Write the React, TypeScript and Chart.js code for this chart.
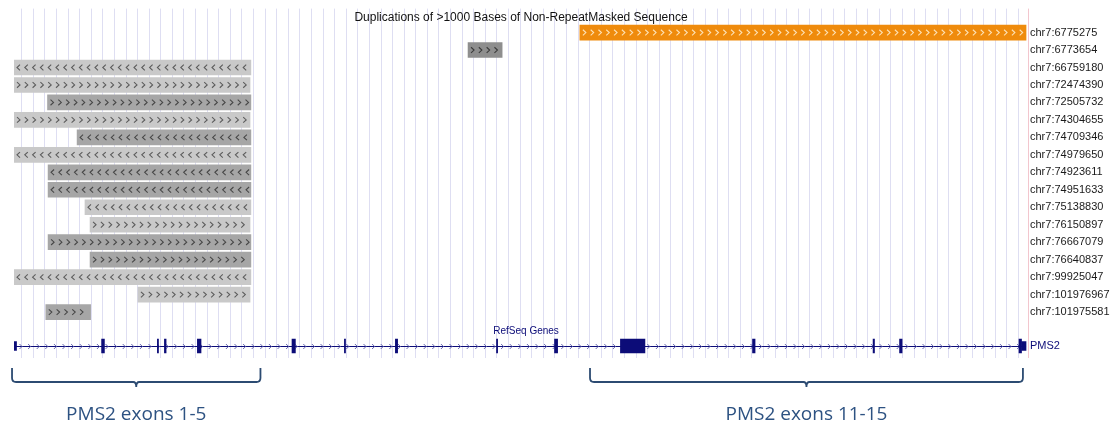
import React, { useEffect, useRef } from "react";
import { Chart, registerables } from "chart.js";

Chart.register(...registerables);

// ---------------- data ----------------
const trackTitle = "Duplications of >1000 Bases of Non-RepeatMasked Sequence";
const geneTrackTitle = "RefSeq Genes";

const rowLabels = [
  "chr7:6775275",
  "chr7:6773654",
  "chr7:66759180",
  "chr7:72474390",
  "chr7:72505732",
  "chr7:74304655",
  "chr7:74709346",
  "chr7:74979650",
  "chr7:74923611",
  "chr7:74951633",
  "chr7:75138830",
  "chr7:76150897",
  "chr7:76667079",
  "chr7:76640837",
  "chr7:99925047",
  "chr7:101976967",
  "chr7:101975581",
];
// positions in kb from the left edge of the browser window
const dupStarts = [20.09, 16.12, 0, 0, 1.19, 0, 2.24, 0, 1.21, 1.21, 2.52, 2.7, 1.21, 2.7, 0, 4.4, 1.13];
const dupEnds = [35.93, 17.33, 8.41, 8.38, 8.41, 8.38, 8.41, 8.41, 8.41, 8.41, 8.41, 8.38, 8.41, 8.41, 8.41, 8.38, 2.72];
const dupStrands = ["+", "+", "-", "+", "+", "+", "-", "-", "-", "-", "-", "+", "+", "+", "-", "+", "+"];
const dupShades = ["orange", "darker", "light", "light", "dark", "light", "dark", "light", "dark", "dark", "light", "light", "dark", "dark", "light", "light", "dark"];

const geneName = "PMS2";
const geneStart = 0;
const geneEnd = 35.93;
const exonStarts = [3.11, 5.09, 5.34, 6.51, 9.87, 11.73, 13.54, 17.13, 19.19, 21.53, 26.22, 30.5, 31.44, 35.68];
const exonEnds = [3.21, 5.13, 5.4, 6.64, 9.99, 11.77, 13.62, 17.17, 19.3, 22.4, 26.31, 30.55, 31.53, 35.77];
const utrStarts = [0, 35.77];
const utrEnds = [0.09, 35.93];

const bracketLabels = ["PMS2 exons 1-5", "PMS2 exons 11-15"];
const bracketStarts = [-0.07, 20.45];
const bracketEnds = [8.75, 35.82];

const windowStart = 0;
const windowEnd = 36;
const guideStart = 0.2734;
const guideStep = 0.4115;
const guideCount = 87;

const titleRow = -0.857;
const geneLabelRow = 17.086;
const geneLabelPos = 18.18;
const geneRow = 17.943;
const rowMin = -1.3714;
const rowMax = 18.6286;

// ---------------- styles ----------------
const NAVY = "#0c0c78";
const shadeColors: Record<string, string> = {
  orange: "#ef8b0c",
  darker: "#8e8e8e",
  dark: "#a6a6a6",
  light: "#c9c9c9",
};
const chevronColors: Record<string, string> = {
  orange: "#fde2b6",
  darker: "#3a3a3a",
  dark: "#474747",
  light: "#5c5c5c",
};
const BRACKET = "#2c4b72";

function pickLabelFont() {
  try {
    const c = document.createElement("canvas").getContext("2d")!;
    c.font = '13px "Liberation Sans Narrow", monospace';
    const w1 = c.measureText("chr7:66759180").width;
    c.font = "13px monospace";
    const w2 = c.measureText("chr7:66759180").width;
    if (Math.abs(w1 - w2) > 0.5) return { family: '"Liberation Sans Narrow"', size: 13 };
  } catch (e) {}
  return { family: '"Liberation Sans", Arial, sans-serif', size: 11 };
}

const trackPlugin = {
  id: "trackPlugin",
  beforeDatasetsDraw(chart: any) {
    const { ctx, chartArea, scales } = chart;
    const xs = scales.x;
    const ys = scales.y;
    ctx.save();
    // right boundary line
    ctx.strokeStyle = "#f3c6ce";
    ctx.lineWidth = 1;
    const rx = Math.round(chartArea.right) + 0.5;
    ctx.beginPath();
    ctx.moveTo(rx, chartArea.top);
    ctx.lineTo(rx, chartArea.bottom);
    ctx.stroke();

    // track title
    ctx.fillStyle = "#111";
    ctx.font = '12px "Liberation Sans", Arial, sans-serif';
    ctx.textAlign = "center";
    ctx.textBaseline = "middle";
    ctx.fillText(trackTitle, (chartArea.left + chartArea.right) / 2, ys.getPixelForValue(titleRow));

    // gene track title
    ctx.fillStyle = NAVY;
    ctx.font = '10px "Liberation Sans", Arial, sans-serif';
    ctx.fillText(geneTrackTitle, xs.getPixelForValue(geneLabelPos), ys.getPixelForValue(geneLabelRow));

    // intron line with strand arrows
    const gy = Math.round(ys.getPixelForValue(geneRow)) + 0.5;
    const gx0 = xs.getPixelForValue(geneStart);
    const gx1 = xs.getPixelForValue(geneEnd);
    ctx.strokeStyle = NAVY;
    ctx.lineWidth = 1.2;
    ctx.beginPath();
    ctx.moveTo(gx0, gy);
    ctx.lineTo(gx1, gy);
    ctx.stroke();
    ctx.strokeStyle = "#6a6ab2";
    ctx.lineWidth = 1;
    for (let cx = gx0 + 7; cx < gx1 - 3; cx += 8.6) {
      ctx.beginPath();
      ctx.moveTo(cx - 1.5, gy - 2.5);
      ctx.lineTo(cx + 1, gy);
      ctx.lineTo(cx - 1.5, gy + 2.5);
      ctx.stroke();
    }
    ctx.restore();
  },
  afterDatasetsDraw(chart: any) {
    const { ctx, scales } = chart;
    const xs = scales.x;
    const meta = chart.getDatasetMeta(0);
    ctx.save();
    meta.data.forEach((el: any, i: number) => {
      const p = el.getProps(["x", "base", "y", "height"], true);
      const l = Math.min(p.x, p.base);
      const r = Math.max(p.x, p.base);
      const cy = p.y;
      ctx.strokeStyle = chevronColors[dupShades[i]];
      ctx.lineWidth = 1.1;
      const right = dupStrands[i] === "+";
      for (let cx = l + 4.5; cx <= r - 3; cx += 7.8) {
        ctx.beginPath();
        if (right) {
          ctx.moveTo(cx - 1.5, cy - 2.8);
          ctx.lineTo(cx + 1.5, cy);
          ctx.lineTo(cx - 1.5, cy + 2.8);
        } else {
          ctx.moveTo(cx + 1.5, cy - 2.8);
          ctx.lineTo(cx - 1.5, cy);
          ctx.lineTo(cx + 1.5, cy + 2.8);
        }
        ctx.stroke();
      }
    });

    // brackets with labels
    const yTop = 368;
    const yH = 382;
    const rad = 4;
    bracketLabels.forEach((label, i) => {
      const a = xs.getPixelForValue(bracketStarts[i]);
      const b = xs.getPixelForValue(bracketEnds[i]);
      const m = (a + b) / 2;
      ctx.strokeStyle = BRACKET;
      ctx.lineWidth = 1.8;
      ctx.beginPath();
      ctx.moveTo(a, yTop);
      ctx.lineTo(a, yH - rad);
      ctx.quadraticCurveTo(a, yH, a + rad, yH);
      ctx.lineTo(m - 3, yH);
      ctx.quadraticCurveTo(m, yH, m, yH + 5);
      ctx.quadraticCurveTo(m, yH, m + 3, yH);
      ctx.lineTo(b - rad, yH);
      ctx.quadraticCurveTo(b, yH, b, yH - rad);
      ctx.lineTo(b, yTop);
      ctx.stroke();
      ctx.fillStyle = "#2d5282";
      ctx.font = '19px "Open Sans", "Noto Sans", sans-serif';
      ctx.textAlign = "center";
      ctx.textBaseline = "alphabetic";
      ctx.fillText(label, m, 420);
    });
    ctx.restore();
  },
};

export default function App() {
  const ref = useRef<HTMLCanvasElement | null>(null);
  useEffect(() => {
    if (!ref.current) return;
    const lf = pickLabelFont();
    const rows = rowLabels.map((_, i) => i);
    const chart = new Chart(ref.current, {
      type: "bar",
      data: {
        datasets: [
          {
            label: "Duplications",
            data: rowLabels.map((_, i) => ({ x: [dupStarts[i], dupEnds[i]], y: i })) as any,
            backgroundColor: dupShades.map((s) => shadeColors[s]),
            barThickness: 15,
            grouped: false,
          } as any,
          {
            label: "Exons",
            data: exonStarts.map((s, i) => ({ x: [s, exonEnds[i]], y: geneRow })) as any,
            backgroundColor: NAVY,
            barThickness: 14,
            grouped: false,
          } as any,
          {
            label: "UTR",
            data: utrStarts.map((s, i) => ({ x: [s, utrEnds[i]], y: geneRow })) as any,
            backgroundColor: NAVY,
            barThickness: 9,
            grouped: false,
          } as any,
        ],
      },
      options: {
        indexAxis: "y",
        animation: false,
        responsive: false,
        devicePixelRatio: 1,
        layout: { padding: { left: 14, top: 8, right: 0, bottom: 70 } },
        plugins: {
          legend: { display: false },
          tooltip: { enabled: false },
          title: { display: false },
        },
        scales: {
          x: {
            type: "linear",
            min: windowStart,
            max: windowEnd,
            offset: false,
            position: "bottom",
            border: { display: false },
            grid: { color: "#dedef2", lineWidth: 1, drawTicks: false, offset: false },
            ticks: { display: false },
            afterBuildTicks: (scale: any) => {
              const t = [];
              for (let k = 0; k < guideCount; k++) t.push({ value: guideStart + k * guideStep });
              scale.ticks = t;
            },
            afterFit: (scale: any) => {
              scale.height = 0;
            },
          },
          y: {
            type: "linear",
            position: "right",
            reverse: true,
            min: rowMin,
            max: rowMax,
            offset: false,
            border: { display: false },
            grid: { display: false, drawTicks: false, offset: false },
            afterBuildTicks: (scale: any) => {
              scale.ticks = [...rows.map((v) => ({ value: v })), { value: geneRow }];
            },
            afterFit: (scale: any) => {
              scale.width = 92;
            },
            ticks: {
              autoSkip: false,
              padding: 2,
              font: { family: lf.family, size: lf.size },
              color: (c: any) => (c.tick && c.tick.value === geneRow ? NAVY : "#1a1a1a"),
              callback: (v: any) => (v === geneRow ? geneName : rowLabels[v] ?? ""),
            },
          },
        },
      } as any,
      plugins: [trackPlugin],
    });
    return () => chart.destroy();
  }, []);
  return (
    <div style={{ position: "absolute", left: 0, top: 0, width: 1120, height: 428, background: "#fff" }}>
      <canvas ref={ref} width={1120} height={428} />
    </div>
  );
}
